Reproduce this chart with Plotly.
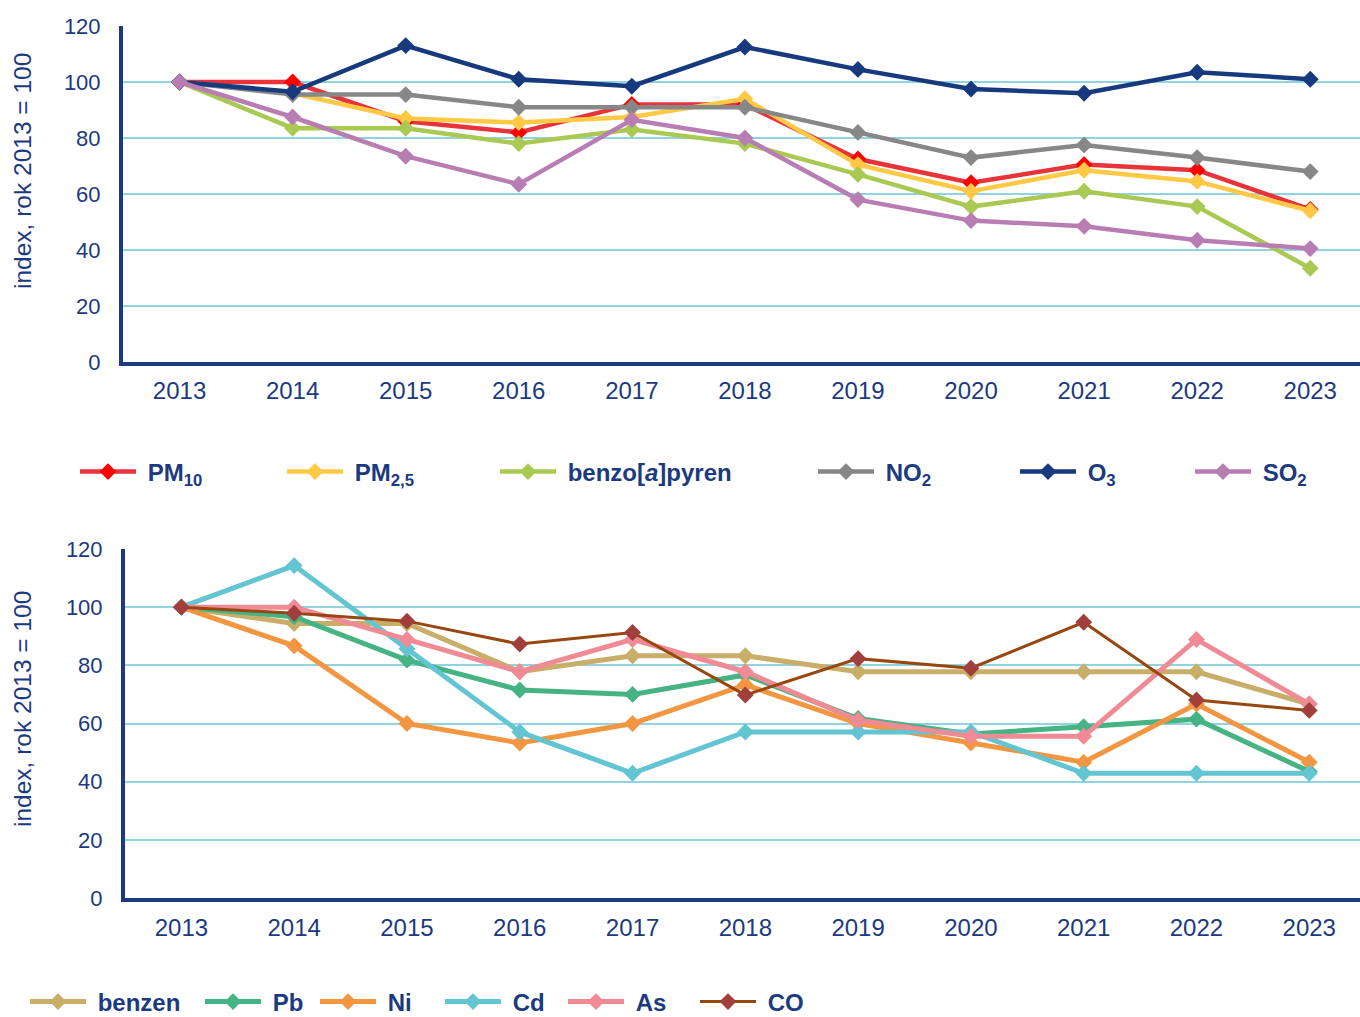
import plotly.graph_objects as go

W, H = 1360, 1017

years = [2013, 2014, 2015, 2016, 2017, 2018, 2019, 2020, 2021, 2022, 2023]

# top panel
pm10 = [100, 100, 86, 82, 92, 92, 72.5, 64, 70.5, 68.5, 54.5]
pm25 = [100, 96, 87, 85.5, 87.5, 94, 70.5, 61, 68.5, 64.5, 54]
bap = [100, 83.5, 83.5, 78, 83, 78, 67, 55.5, 61, 55.5, 33.5]
no2 = [100, 95.5, 95.5, 91, 91, 91, 82, 73, 77.5, 73, 68]
o3 = [100, 96.5, 113, 101, 98.5, 112.5, 104.5, 97.5, 96, 103.5, 101]
so2 = [100, 87.5, 73.5, 63.5, 86.5, 80, 58, 50.5, 48.5, 43.5, 40.5]

# bottom panel
benzen = [100, 94.4, 94.4, 77.8, 83.3, 83.3, 77.8, 77.8, 77.8, 77.8, 66.7]
pb = [100, 96.7, 81.8, 71.5, 70, 76.7, 61.7, 56.4, 58.9, 61.5, 43.5]
ni = [100, 86.7, 60, 53.3, 60, 73.3, 60, 53.3, 46.7, 66.7, 46.7]
cd = [100, 114.3, 85.7, 57.1, 42.9, 57.1, 57.1, 57.1, 42.9, 42.9, 42.9]
as_ = [100, 100, 88.9, 77.8, 88.9, 77.8, 61.1, 55.6, 55.6, 88.9, 66.7]
co = [100, 97.9, 95.2, 87.3, 91.3, 69.8, 82.3, 79, 94.8, 68.1, 64.5]

NAVY = "#1B3A80"
GRID = "#92D3E0"
FONT = "Liberation Sans, Arial, sans-serif"

top_series = [
    (" <b>PM<sub>10</sub></b>", pm10, "#E8333A", "#FF0000", 4.5, 80),
    (" <b>PM<sub>2,5</sub></b>", pm25, "#FFC845", "#FFC845", 4.5, 287),
    (" <b>benzo[<i>a</i>]pyren</b>", bap, "#A9C953", "#A9C953", 4.5, 500),
    (" <b>NO<sub>2</sub></b>", no2, "#878787", "#878787", 4.5, 818),
    (" <b>O<sub>3</sub></b>", o3, "#173A7E", "#173A7E", 4.5, 1020),
    (" <b>SO<sub>2</sub></b>", so2, "#B87DB3", "#B87DB3", 4.5, 1195),
]
bottom_series = [
    (" <b>benzen</b>", benzen, "#C9AE6A", "#C9AE6A", 5, 30),
    (" <b>Pb</b>", pb, "#45B383", "#45B383", 5, 205),
    (" <b>Ni</b>", ni, "#F39642", "#F39642", 5, 320),
    (" <b>Cd</b>", cd, "#63C4D2", "#63C4D2", 5, 445),
    (" <b>As</b>", as_, "#F08A94", "#F08A94", 5, 568),
    (" <b>CO</b>", co, "#97470F", "#A03F3C", 3, 700),
]

fig = go.Figure()
legend_layouts = {}
k = 0
for panel, series, ly in (("1", top_series, 472), ("2", bottom_series, 1002)):
    for name, vals, lc, mc, lw, lx in series:
        k += 1
        lname = "legend" if k == 1 else f"legend{k}"
        fig.add_trace(go.Scatter(
            x=years, y=vals, name=name, mode="lines+markers",
            line=dict(color=lc, width=lw),
            marker=dict(symbol="diamond", size=13, color=mc),
            xaxis="x" if panel == "1" else "x2",
            yaxis="y" if panel == "1" else "y2",
            legend=lname,
        ))
        legend_layouts[lname] = dict(
            x=(lx - 5) / W, y=1 - ly / H, xanchor="left", yanchor="middle",
            orientation="h", bgcolor="rgba(0,0,0,0)", borderwidth=0,
            font=dict(family=FONT, size=24, color=NAVY), itemwidth=56,
        )

axis_common = dict(showline=True, linecolor=NAVY, linewidth=4, mirror=False)

top_dom = [1 - 362 / H, 1 - 26 / H]
bot_dom = [1 - 898 / H, 1 - 549 / H]

xtf = dict(family=FONT, size=24, color=NAVY)
ytf = dict(family=FONT, size=22, color=NAVY)

fig.update_layout(
    width=W, height=H,
    margin=dict(l=0, r=0, t=0, b=0, autoexpand=False),
    plot_bgcolor="white", paper_bgcolor="white",
    showlegend=True,
    xaxis=dict(domain=[123 / W, 1], anchor="y", range=[2012.5, 2023.44],
               tickvals=years, ticks="outside", ticklen=4, tickcolor="rgba(0,0,0,0)",
               tickfont=xtf, showgrid=False, zeroline=False, **axis_common),
    yaxis=dict(domain=top_dom, anchor="x", range=[0, 120], dtick=20,
               ticks="outside", ticklen=14, tickcolor="rgba(0,0,0,0)", tickfont=ytf,
               showgrid=True, gridcolor=GRID, gridwidth=2, zeroline=False, **axis_common),
    xaxis2=dict(domain=[125 / W, 1], anchor="y2", range=[2012.5, 2023.45],
                tickvals=years, ticks="outside", ticklen=5, tickcolor="rgba(0,0,0,0)",
                tickfont=xtf, showgrid=False, zeroline=False, **axis_common),
    yaxis2=dict(domain=bot_dom, anchor="x2", range=[0, 120], dtick=20,
                ticks="outside", ticklen=14, tickcolor="rgba(0,0,0,0)", tickfont=ytf,
                showgrid=True, gridcolor=GRID, gridwidth=2, zeroline=False, **axis_common),
    **legend_layouts,
)

for yc in (171, 709):
    fig.add_annotation(
        text="index, rok 2013 = 100", xref="paper", yref="paper",
        x=22 / W, y=1 - yc / H, xanchor="center", yanchor="middle",
        textangle=-90, showarrow=False,
        font=dict(family=FONT, size=24.5, color=NAVY),
    )

fig.write_html("out.html", config={"displayModeBar": False},
               post_script="document.body.style.margin='0px';")
